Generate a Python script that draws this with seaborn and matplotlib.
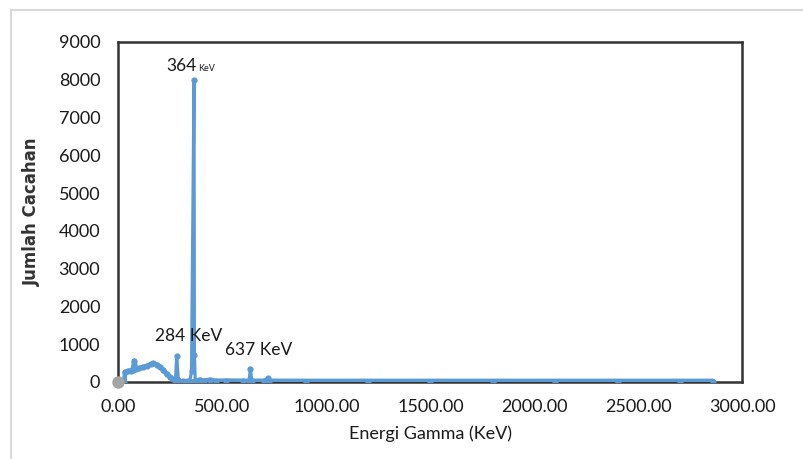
import matplotlib
matplotlib.use('Agg')
import matplotlib.pyplot as plt
from matplotlib.lines import Line2D
import seaborn as sns
import pandas as pd

# gamma spectrum (energy in KeV, counts)
energy = [29, 33, 45, 60, 70, 77, 86, 100, 121, 140, 155, 169, 185, 201, 215,
          233, 250, 263, 275, 281, 289, 310, 330, 344, 352, 364, 366, 370,
          392, 410, 440, 470, 520, 600, 628, 635, 642, 700, 719, 726, 900,
          1200, 1500, 1800, 2100, 2400, 2700, 2858]
counts = [0, 270, 290, 300, 330, 560, 340, 360, 400, 430, 470, 490, 460, 400, 330,
          200, 120, 70, 60, 690, 40, 30, 30, 30, 290, 8000, 720, 20,
          45, 20, 40, 15, 20, 15, 15, 340, 15, 15, 115, 15, 12,
          12, 12, 12, 12, 12, 12, 12]

# second (grey) series: one point at the origin
origin_x = [0]
origin_y = [0]

peak_labels = ['364', '284 KeV', '637 KeV']

spec = pd.DataFrame({'Energi': energy, 'Cacahan': counts})
# the dense flat tail after the big peak looks thicker in the original (overlapping markers)
tail = spec[(spec['Energi'] >= 370) & (spec['Cacahan'] < 60)]
hump = spec[spec['Energi'] <= 275]

sns.set_style('white')
plt.rcParams['font.family'] = ['Lato', 'DejaVu Sans']

fig = plt.figure(figsize=(8.04, 4.59), dpi=100)
ax = fig.add_axes([0.1471, 0.1678, 0.7764, 0.7407])

blue = '#5B9BD5'
sns.lineplot(data=spec, x='Energi', y='Cacahan', sort=False, estimator=None,
             color=blue, linewidth=2.3, marker='o', markersize=4.5,
             markeredgewidth=0, ax=ax, zorder=3)
sns.lineplot(data=tail, x='Energi', y='Cacahan', sort=False, estimator=None,
             color=blue, linewidth=4.2, ax=ax, zorder=3)
sns.lineplot(data=hump, x='Energi', y='Cacahan', sort=False, estimator=None,
             color=blue, linewidth=3.4, ax=ax, zorder=3)
sns.scatterplot(x=origin_x, y=origin_y, color='#A5A5A5', s=80, linewidth=0,
                clip_on=False, zorder=5, ax=ax)

ax.set_xlim(0, 3000)
ax.set_ylim(0, 9000)
ax.set_xticks([0, 500, 1000, 1500, 2000, 2500, 3000])
ax.set_xticklabels(['%.2f' % v for v in ax.get_xticks()])
ax.set_yticks(range(0, 9001, 1000))
ax.tick_params(axis='both', length=0, labelsize=13, colors='#1a1a1a')
ax.tick_params(axis='y', pad=13)
ax.tick_params(axis='x', pad=12)

for s in ax.spines.values():
    s.set_color('#333333')
    s.set_linewidth(1.8)
    s.set_visible(True)

ax.set_xlabel('Energi Gamma (KeV)', fontsize=13, color='#1a1a1a', labelpad=8)
ax.set_ylabel('Jumlah Cacahan', fontsize=12, fontweight='bold',
              family='DejaVu Sans', color='#333333', labelpad=13)

# peak annotations
ax.text(232, 8245, peak_labels[0], fontsize=12.5, va='baseline', color='#1a1a1a')
ax.text(384, 8245, 'KeV', fontsize=6.5, va='baseline', color='#1a1a1a')
ax.text(177, 1223, peak_labels[1], fontsize=12.5, va='center', color='#1a1a1a')
ax.text(512, 851, peak_labels[2], fontsize=12.5, va='center', color='#1a1a1a')

# light grey chart-area border (top and left edge visible)
fig.add_artist(Line2D([11 / 804, 1], [1 - 10 / 459, 1 - 10 / 459],
                      transform=fig.transFigure, color='#d9d9d9', lw=1.5))
fig.add_artist(Line2D([11 / 804, 11 / 804], [0, 1 - 10 / 459],
                      transform=fig.transFigure, color='#d9d9d9', lw=1.5))

fig.savefig('out.png', dpi=100)
